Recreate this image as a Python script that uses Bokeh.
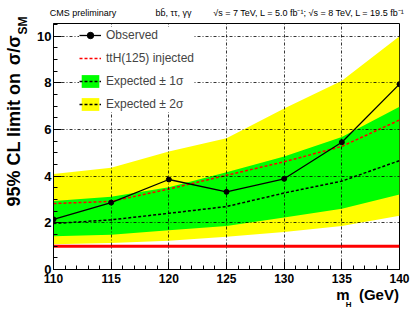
from bokeh.plotting import figure
from bokeh.models import (Range1d, SingleIntervalTicker, FixedTicker, Span, Legend,
                          LegendItem, LinearAxis)
from bokeh.embed import file_html
from bokeh.resources import INLINE

# ---- data ----
mass = [110, 115, 120, 125, 130, 135, 140]
observed = [2.15, 2.87, 3.86, 3.33, 3.89, 5.46, 7.95]
tth_injected = [2.83, 2.92, 3.45, 4.04, 4.62, 5.28, 6.41]
exp_median = [1.97, 2.13, 2.41, 2.70, 3.28, 3.79, 4.67]
exp_minus1 = [1.43, 1.49, 1.68, 1.87, 2.23, 2.61, 3.22]
exp_plus1 = [2.94, 3.12, 3.53, 4.17, 4.85, 5.68, 6.98]
exp_minus2 = [1.08, 1.14, 1.23, 1.40, 1.61, 1.87, 2.30]
exp_plus2 = [4.10, 4.36, 5.06, 5.63, 6.91, 8.09, 10.0]
sm_level = 1.0

# header / axis-title texts and the axis positions where they are centred
header_texts = ["CMS preliminary", "bb\u0304, \u03c4\u03c4, \u03b3\u03b3",
                "\u221as = 7 TeV, L = 5.0 fb\u207b\u00b9; \u221as = 8 TeV, L = 19.5 fb\u207b\u00b9"]
header_pos = [112.56, 120.40, 132.15]
xtitle_texts = ["m", "(GeV)"]
xtitle_pos = [135.09, 138.22]
xtitle_sub = "H"
xtitle_sub_pos = 135.60
ytitle_texts = ["95% CL limit on", "\u03c3/\u03c3"]
ytitle_pos = [5.57, 9.40]
ytitle_sub = "SM"
ytitle_sub_pos = 10.46

FONT = "Liberation Sans"

p = figure(width=415, height=311, output_backend="svg", toolbar_location=None,
           title=None,
           x_range=Range1d(110, 140), y_range=Range1d(0, 10.55),
           min_border_left=53, min_border_right=16, min_border_top=23,
           min_border_bottom=40)
p.background_fill_color = "white"
p.border_fill_color = "white"
p.outline_line_color = "black"
p.outline_line_width = 1

xax = p.below[0]
yax = p.left[0]

# main axes
xax.ticker = SingleIntervalTicker(interval=5, num_minor_ticks=5)
yax.ticker = SingleIntervalTicker(interval=2, num_minor_ticks=4)
for ax in (xax, yax):
    ax.major_tick_in = 8
    ax.major_tick_out = 0
    ax.minor_tick_in = 4
    ax.minor_tick_out = 0
    ax.axis_line_color = "black"
    ax.major_tick_line_color = "black"
    ax.minor_tick_line_color = "black"
    ax.major_label_text_font = FONT
    ax.major_label_text_font_style = "bold"
    ax.major_label_text_color = "black"
xax.major_label_text_font_size = "12px"
yax.major_label_text_font_size = "13px"
xax.major_label_standoff = 4
yax.major_label_standoff = 2

# grid
for g in (p.xgrid[0], p.ygrid[0]):
    g.grid_line_color = "black"
    g.grid_line_dash = "3 2 1 2"
    g.grid_line_width = 0.8
    g.level = "guide"

# bands
yellow = p.varea(x=mass, y1=exp_minus2, y2=exp_plus2, fill_color="#ffff00", fill_alpha=1)
green = p.varea(x=mass, y1=exp_minus1, y2=exp_plus1, fill_color="#00ff00", fill_alpha=1)

# SM line
p.add_layout(Span(location=sm_level, dimension="width", line_color="#ff0000",
                  line_width=3, level="glyph"))

median = p.line(mass, exp_median, line_color="black", line_width=1.5, line_dash="3 2")
tth = p.line(mass, tth_injected, line_color="#ff0000", line_width=1.5, line_dash="3 2")
obs_line = p.line(mass, observed, line_color="black", line_width=1.3)
obs_pts = p.scatter(mass, observed, size=5, color="black")

legend = Legend(items=[
    LegendItem(label="Observed", renderers=[obs_line, obs_pts]),
    LegendItem(label="ttH(125) injected", renderers=[tth]),
    LegendItem(label="Expected ± 1σ", renderers=[green, median]),
    LegendItem(label="Expected ± 2σ", renderers=[yellow, median]),
], location=(26, 157), padding=3, spacing=7, glyph_width=22, glyph_height=16,
   label_height=16, label_standoff=5, label_text_font=FONT,
   label_text_font_size="12px", border_line_color=None,
   background_fill_color="white", background_fill_alpha=1, margin=0)
p.add_layout(legend)


def text_axis(ticks, labels, size, style, standoff, orientation="horizontal"):
    ax = LinearAxis(ticker=FixedTicker(ticks=list(ticks)),
                    major_label_overrides={t: s for t, s in zip(ticks, labels)},
                    axis_line_color=None, major_tick_line_color=None,
                    minor_tick_line_color=None, major_tick_in=0, major_tick_out=0,
                    minor_tick_in=0, minor_tick_out=0,
                    major_label_standoff=standoff,
                    major_label_text_font=FONT, major_label_text_font_size=size,
                    major_label_text_font_style=style, major_label_text_color="black",
                    major_label_orientation=orientation)
    return ax

# header line above the frame
p.add_layout(text_axis(header_pos, header_texts, "9px", "normal", 6), "above")

# x-axis title  m_H (GeV)
p.add_layout(text_axis(xtitle_pos, xtitle_texts, "15px", "bold", 0), "below")
p.add_layout(text_axis([xtitle_sub_pos], [xtitle_sub], "8px", "bold", -6), "below")

# y-axis title  95% CL limit on sigma/sigma_SM
p.add_layout(text_axis([ytitle_sub_pos], [ytitle_sub], "12px", "bold", 4, "parallel"), "left")
p.add_layout(text_axis(ytitle_pos, ytitle_texts, "18px", "bold", -11, "parallel"), "left")

open("out.html", "w").write(file_html(p, INLINE))
